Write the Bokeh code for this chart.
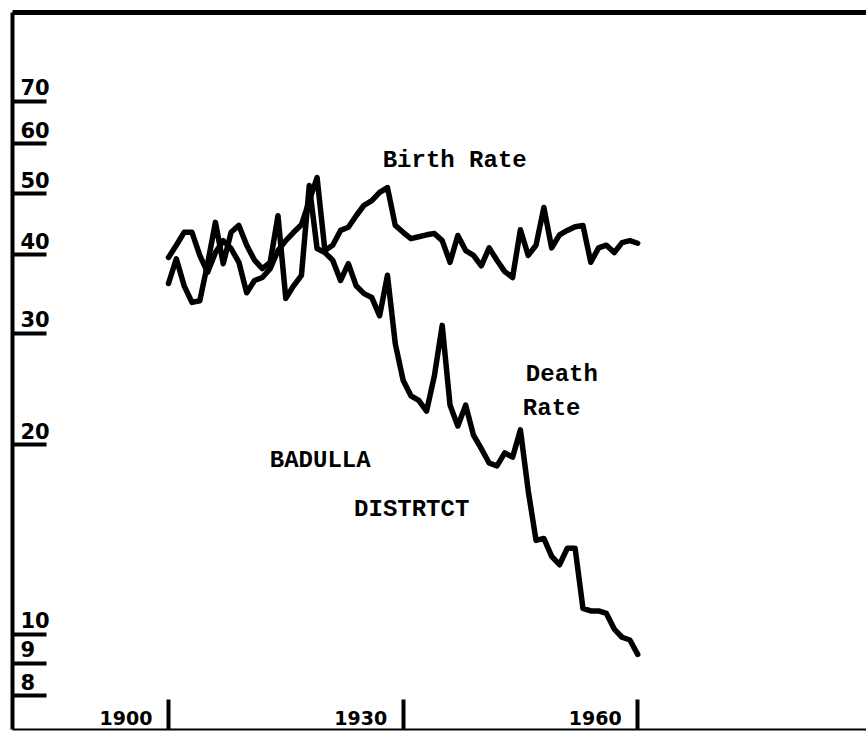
from bokeh.plotting import figure
from bokeh.models import Range1d, FixedTicker, LinearAxis, Label, ColumnDataSource
from bokeh.core.properties import value
from bokeh.embed import file_html
from bokeh.resources import INLINE

# ---------------- data ----------------
years = list(range(1900, 1961))

birth_rate = [
    39.6, 41.4, 43.4, 43.4, 39.9, 37.5, 40.3, 42.1, 40.9, 38.9,   # 1900-1909
    34.8, 36.4, 36.8, 38.0, 40.6, 42.1, 43.4, 44.6, 48.7, 53.0,   # 1910-1919
    40.6, 41.4, 43.7, 44.2, 46.1, 47.9, 48.7, 50.2, 51.1, 44.5,   # 1920-1929
    43.4, 42.4, 42.7, 43.0, 43.2, 42.1, 38.9, 42.9, 40.6, 39.9,   # 1930-1939
    38.4, 41.0, 39.2, 37.6, 36.8, 43.8, 39.9, 41.4, 47.5, 41.0,   # 1940-1949
    43.0, 43.7, 44.3, 44.5, 38.9, 41.0, 41.4, 40.3, 41.8, 42.1,   # 1950-1959
    41.7,                                                         # 1960
]

death_rate = [
    36.0, 39.4, 35.7, 33.6, 33.8, 38.7, 45.0, 38.7, 43.4, 44.5,   # 1900-1909
    41.4, 39.2, 38.0, 38.9, 46.1, 34.1, 35.7, 37.1, 51.5, 40.9,   # 1910-1919
    40.3, 39.2, 36.4, 38.7, 35.7, 34.7, 34.2, 32.0, 37.1, 28.9,   # 1920-1929
    25.3, 23.9, 23.5, 22.6, 25.7, 30.9, 23.1, 21.4, 23.1, 20.7,   # 1930-1939
    19.7, 18.7, 18.5, 19.4, 19.1, 21.1, 16.9, 14.1, 14.2, 13.3,   # 1940-1949
    12.9, 13.7, 13.7, 11.0, 10.9, 10.9, 10.8, 10.2, 9.9, 9.8,     # 1950-1959
    9.3,                                                          # 1960
]

y_ticks = [8, 9, 10, 20, 30, 40, 50, 60, 70]
y_tick_labels = ["8", "9", "10", "20", "30", "40", "50", "60", "70"]
x_ticks = [1900, 1930, 1960]
x_tick_labels = ["1900", "1930", "1960"]

# ---------------- figure ----------------
X0, X1 = 1880.05, 1989.26
Y0, Y1 = 7.07, 96.8

p = figure(
    width=866, height=732,
    x_range=Range1d(X0, X1), y_range=Range1d(Y0, Y1),
    y_axis_type="log",
    output_backend="svg", toolbar_location=None,
    min_border_left=12, min_border_top=12, min_border_bottom=3, min_border_right=0,
)
p.outline_line_color = None
p.xgrid.visible = False
p.ygrid.visible = False
p.background_fill_color = "white"
p.border_fill_color = "white"

# left (log) axis: ticks pointing inwards, labels drawn separately above ticks
ya = p.yaxis[0]
ya.ticker = FixedTicker(ticks=y_ticks)
ya.axis_line_width = 4
ya.axis_line_color = "black"
ya.major_tick_in = 34
ya.major_tick_out = 0
ya.major_tick_line_width = 4
ya.minor_tick_line_color = None
ya.major_label_text_color = None
ya.major_label_text_font_size = "1px"
ya.major_label_standoff = 0

# bottom axis
xa = p.xaxis[0]
xa.ticker = FixedTicker(ticks=x_ticks)
xa.axis_line_width = 2
xa.axis_line_color = "black"
xa.major_tick_in = 30
xa.major_tick_out = 0
xa.major_tick_line_width = 4
xa.minor_tick_line_color = None
xa.major_label_text_color = None
xa.major_label_text_font_size = "1px"
xa.major_label_standoff = 0

# top border line
top = LinearAxis(ticker=FixedTicker(ticks=[]))
top.axis_line_width = 5
top.axis_line_color = "black"
top.major_tick_out = 0
top.major_tick_in = 0
top.minor_tick_line_color = None
top.major_label_text_color = None
top.major_label_text_font_size = "1px"
top.major_label_standoff = 0
p.add_layout(top, "above")

# ---------------- series ----------------
src = ColumnDataSource(dict(year=years, birth=birth_rate, death=death_rate))
p.line("year", "birth", source=src, line_width=5.5, line_color="black",
       line_join="round", line_cap="round")
p.line("year", "death", source=src, line_width=5.5, line_color="black",
       line_join="round", line_cap="round")

# ---------------- tick labels ----------------
p.text(x=[X0] * len(y_ticks), y=y_ticks, text=y_tick_labels,
       x_offset=8, y_offset=-14, text_align="left", text_baseline="middle",
       text_font=value("DejaVu Sans"), text_font_style="bold",
       text_font_size="21px", text_color="black")

p.text(x=x_ticks, y=[Y0] * len(x_ticks), text=x_tick_labels,
       x_offset=-16, y_offset=-5, text_align="right", text_baseline="bottom",
       text_font=value("DejaVu Sans"), text_font_style="bold",
       text_font_size="19px", text_color="black")

# ---------------- annotations ----------------
def add_label(x, y, txt):
    p.add_layout(Label(x=x, y=y, text=txt, text_align="center",
                       text_baseline="middle",
                       text_font="Liberation Mono",
                       text_font_style="bold", text_font_size="24px",
                       text_color="black"))

add_label(1936.6, 56.4, "Birth Rate")
add_label(1950.3, 25.8, "Death")
add_label(1949.0, 22.8, "Rate")
add_label(1919.4, 18.9, "BADULLA")
add_label(1931.1, 15.8, "DISTRTCT")

open("out.html", "w").write(file_html(p, INLINE))
